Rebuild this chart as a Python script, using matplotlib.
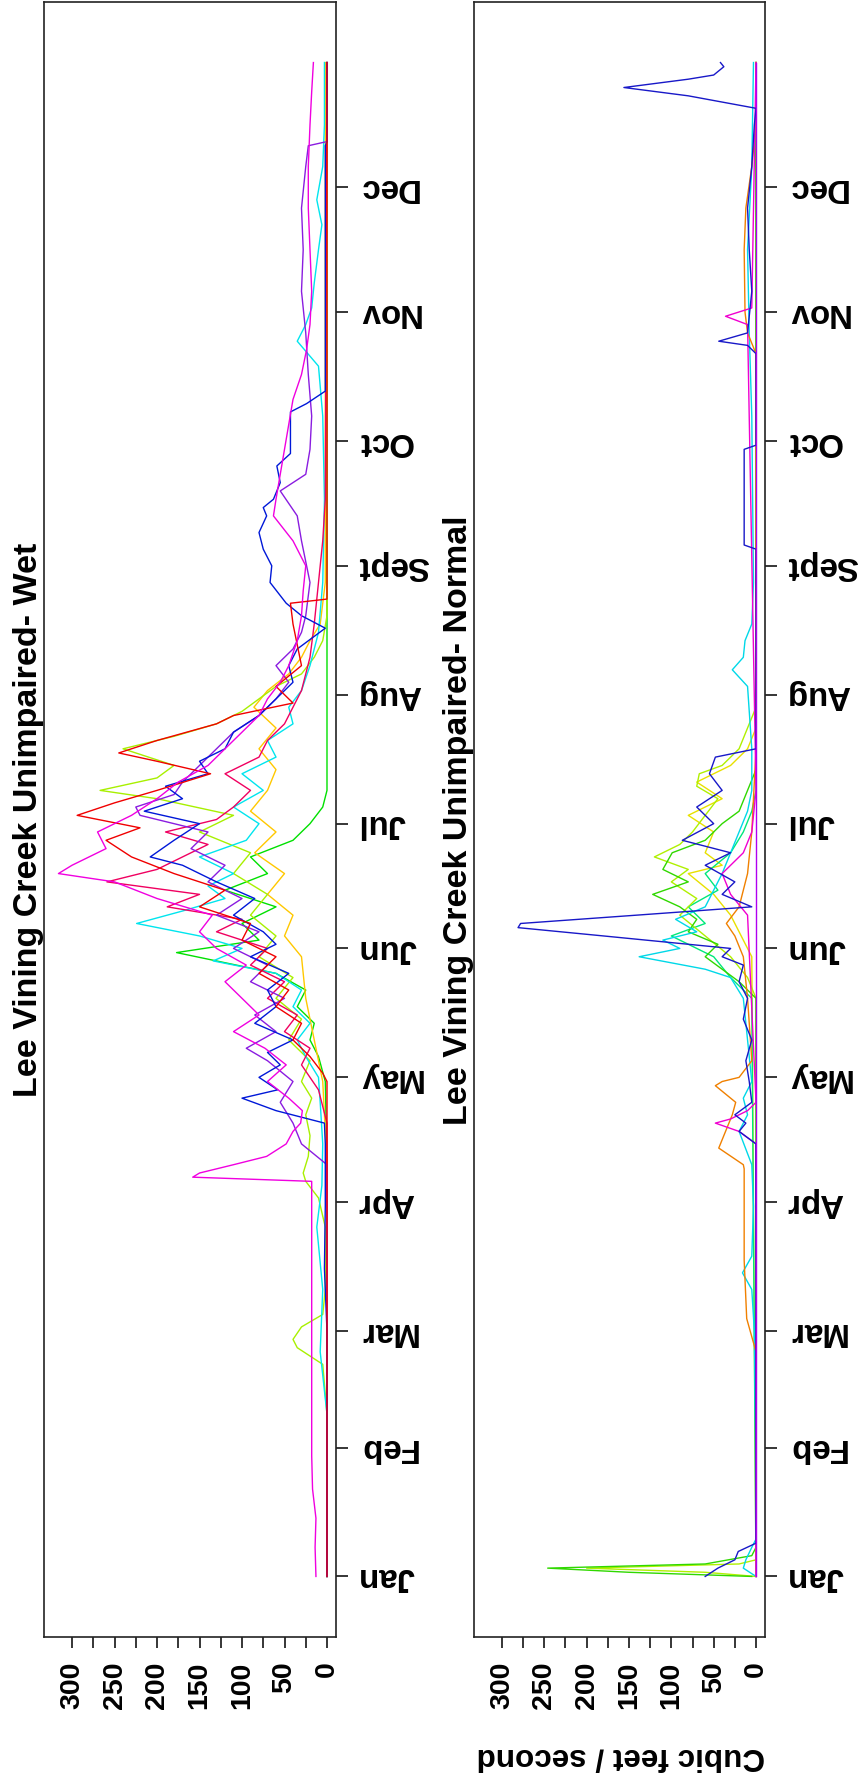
import matplotlib
matplotlib.use('Agg')
import matplotlib.pyplot as plt

plt.rcParams['font.family'] = ['Liberation Sans', 'DejaVu Sans']

# Eixo dos meses (dia do ano)
month_days = [1, 32, 60, 91, 121, 152, 182, 213, 244, 274, 305, 335]
month_names = ['Jan', 'Feb', 'Mar', 'Apr', 'May', 'Jun', 'Jul', 'Aug', 'Sept', 'Oct', 'Nov', 'Dec']
cfs_ticks = [0, 50, 100, 150, 200, 250, 300]
cfs_minor = [25, 75, 125, 175, 225, 275]

# ---- Wet years ----
wet_magenta_days = [1, 8, 15, 22, 30, 45, 60, 75, 90, 96, 97, 98, 100, 102, 105, 108, 110, 113, 116, 120,
                    124, 128, 132, 136, 140, 144, 148, 152, 156, 160, 164, 168, 170, 172, 176, 180, 184, 188, 192, 196,
                    200, 204, 208, 212, 216, 220, 226, 232, 238, 244, 250, 256, 260, 266, 272, 278, 284, 290, 296, 302,
                    310, 320, 330, 340, 350, 358, 365]
wet_magenta_cfs = [13, 14, 13, 17, 18, 18, 18, 18, 18, 18, 158, 150, 110, 71, 48, 40, 31, 29, 45, 70,
                   48, 73, 110, 80, 100, 120, 95, 130, 150, 135, 200, 250, 316, 300, 260, 270, 230, 200, 175, 140,
                   120, 100, 80, 70, 55, 45, 35, 30, 28, 25, 40, 63, 60, 55, 50, 45, 40, 30, 24, 20,
                   18, 20, 22, 22, 20, 18, 16]

wet_red_days = [1, 120, 122, 126, 130, 134, 138, 142, 146, 150, 154, 158, 162, 166, 170, 174, 178, 181, 184, 187,
                190, 194, 197, 199, 202, 204, 206, 208, 211, 215, 220, 225, 230, 235, 236, 240, 365]
wet_red_cfs = [0, 0, 5, 20, 40, 30, 60, 45, 80, 60, 100, 90, 150, 120, 180, 230, 260, 220, 294, 250,
               200, 137, 200, 245, 200, 165, 130, 110, 40, 60, 30, 35, 40, 43, 0, 0, 0]

wet_blue_days = [1, 60, 75, 90, 105, 110, 113, 116, 118, 121, 124, 127, 130, 134, 138, 142, 146, 150, 153, 156,
                 160, 164, 168, 172, 174, 178, 182, 185, 188, 191, 194, 197, 200, 204, 208, 212, 216, 220, 224, 229,
                 232, 235, 240, 244, 248, 252, 256, 258, 260, 264, 268, 271, 276, 281, 283, 286, 300, 320, 345, 346, 365]
wet_blue_cfs = [0, 0, 3, 2, 2, 3, 60, 100, 58, 80, 55, 70, 40, 85, 60, 70, 45, 90, 60, 75,
                110, 85, 130, 170, 208, 180, 150, 215, 170, 190, 140, 150, 120, 110, 80, 60, 40, 45, 35, 2,
                30, 48, 67, 65, 75, 80, 71, 75, 63, 55, 59, 43, 43, 43, 24, 2, 2, 2, 2, 0, 0]

wet_cyan_days = [1, 20, 40, 55, 70, 85, 95, 105, 115, 121, 126, 130, 134, 138, 142, 146, 149, 152, 155, 158,
                 161, 164, 167, 170, 174, 178, 182, 186, 190, 194, 198, 202, 206, 210, 214, 220, 228, 240, 260, 280,
                 292, 298, 302, 306, 312, 320, 326, 332, 340, 350, 365]
wet_cyan_cfs = [0, 0, 0, 8, 5, 12, 6, 5, 8, 10, 25, 35, 20, 40, 30, 60, 134, 100, 150, 224,
                170, 120, 140, 110, 150, 95, 80, 110, 75, 100, 60, 70, 40, 45, 30, 20, 10, 5, 3, 5,
                10, 35, 25, 18, 15, 10, 6, 12, 5, 3, 3]

wet_green_days = [1, 100, 120, 126, 130, 134, 138, 142, 146, 151, 154, 158, 162, 166, 170, 174, 178, 182, 186, 190, 365]
wet_green_cfs = [0, 0, 2, 10, 20, 15, 35, 25, 60, 177, 80, 100, 60, 120, 70, 90, 40, 20, 5, 0, 0]

wet_lime_days = [1, 40, 52, 56, 58, 61, 64, 70, 85, 92, 96, 98, 102, 107, 112, 116, 120, 125, 130, 135,
                 140, 145, 150, 155, 160, 165, 170, 175, 180, 184, 188, 190, 193, 196, 200, 203, 206, 209, 212, 215,
                 218, 222, 226, 232, 365]
wet_lime_cfs = [0, 0, 5, 35, 40, 30, 5, 2, 2, 10, 25, 28, 22, 20, 25, 18, 30, 20, 45, 30,
                60, 40, 80, 60, 90, 70, 110, 90, 150, 110, 200, 267, 200, 180, 240, 180, 130, 100, 80, 60,
                30, 15, 5, 0, 0]

wet_yellow_days = [1, 100, 120, 130, 140, 150, 155, 160, 165, 170, 175, 180, 185, 190, 195, 200, 205, 210, 214, 218,
                   222, 226, 230, 240, 365]
wet_yellow_cfs = [0, 0, 5, 15, 25, 30, 50, 40, 70, 50, 85, 60, 90, 70, 60, 80, 60, 86, 70, 45,
                  30, 20, 8, 2, 2]

wet_purple_days = [1, 60, 100, 105, 110, 115, 120, 125, 128, 132, 136, 140, 144, 148, 152, 156, 160, 164, 168, 172,
                   176, 180, 184, 186, 189, 192, 196, 200, 204, 208, 212, 216, 220, 224, 228, 232, 240, 250, 256, 262,
                   266, 272, 280, 290, 300, 310, 320, 330, 340, 345, 346, 365]
wet_purple_cfs = [0, 0, 0, 30, 40, 55, 40, 70, 95, 60, 85, 50, 90, 70, 110, 80, 130, 100, 140, 120,
                  160, 140, 220, 225, 180, 170, 150, 130, 110, 80, 60, 45, 60, 40, 30, 25, 20, 30, 35, 55,
                  25, 20, 18, 22, 25, 30, 28, 30, 25, 22, 0, 0]

wet_rose_days = [1, 110, 118, 124, 128, 132, 136, 140, 144, 148, 152, 156, 159, 162, 165, 168, 171, 174, 177, 180,
                 183, 186, 190, 194, 198, 202, 206, 210, 214, 218, 222, 230, 240, 250, 260, 365]
wet_rose_cfs = [0, 0, 10, 30, 20, 50, 35, 70, 50, 90, 70, 130, 100, 188, 150, 259, 200, 170, 140, 190,
                130, 110, 90, 120, 80, 70, 50, 40, 30, 25, 20, 15, 10, 5, 2, 0]

# ---- Normal years ----
nor_blue_days = [1, 3, 5, 7, 9, 105, 108, 110, 112, 115, 120, 125, 130, 135, 140, 144, 148, 150, 152, 155,
                 157, 158, 160, 162, 165, 168, 172, 175, 178, 182, 186, 190, 194, 198, 200, 248, 249, 272, 273, 295,
                 297, 298, 300, 310, 320, 330, 340, 350, 354, 357, 359, 361, 362, 364, 365]
nor_blue_cfs = [60, 45, 25, 21, 0, 0, 20, 12, 25, 5, 8, 12, 5, 15, 10, 20, 15, 40, 30, 180,
                281, 278, 141, 5, 40, 25, 60, 30, 87, 50, 70, 40, 55, 48, 0, 0, 14, 14, 0, 0,
                10, 44, 10, 5, 8, 10, 5, 2, 0, 80, 156, 80, 50, 38, 42]

nor_green_days = [1, 2, 3, 4, 6, 8, 140, 144, 147, 150, 153, 156, 159, 162, 165, 168, 171, 175, 178, 182,
                  185, 190, 195, 365]
nor_green_cfs = [5, 150, 246, 60, 5, 0, 0, 20, 40, 60, 45, 80, 70, 90, 122, 80, 110, 99, 60, 40,
                 20, 10, 0, 0]

nor_lime_days = [1, 2, 3, 4, 5, 140, 145, 150, 155, 160, 164, 168, 171, 174, 177, 180, 184, 188, 191, 194,
                 196, 200, 205, 210, 365]
nor_lime_cfs = [0, 60, 200, 20, 0, 0, 10, 30, 60, 90, 70, 100, 80, 120, 90, 75, 60, 45, 70, 67,
                40, 20, 10, 0, 0]

nor_cyan_days = [1, 3, 5, 8, 10, 30, 60, 70, 74, 78, 90, 100, 108, 112, 116, 120, 130, 140, 145, 147,
                 150, 152, 154, 156, 159, 162, 166, 170, 175, 180, 185, 190, 200, 215, 219, 222, 226, 230, 240, 280,
                 300, 320, 340, 365]
nor_cyan_cfs = [0, 15, 12, 5, 0, 0, 2, 5, 16, 5, 3, 5, 20, 10, 15, 5, 10, 15, 30, 60,
                138, 90, 110, 70, 95, 60, 50, 40, 30, 20, 10, 5, 5, 10, 28, 15, 13, 5, 3, 5,
                8, 10, 5, 3]

nor_orange_days = [1, 55, 63, 77, 99, 100, 104, 108, 112, 115, 117, 119, 120, 121, 125, 140, 150, 155, 158, 162,
                   170, 180, 200, 295, 300, 305, 320, 330, 340, 350, 365]
nor_orange_cfs = [0, 0, 11, 14, 14, 15, 44, 36, 28, 24, 36, 48, 40, 20, 5, 10, 15, 25, 35, 20,
                  10, 5, 0, 0, 10, 13, 14, 12, 5, 0, 0]

nor_spring_days = [1, 140, 145, 150, 155, 158, 162, 166, 170, 175, 180, 185, 190, 365]
nor_spring_cfs = [0, 5, 30, 50, 100, 60, 80, 45, 60, 30, 15, 5, 0, 0]

nor_yellow_days = [1, 150, 160, 165, 170, 172, 175, 180, 184, 188, 190, 192, 196, 200, 205, 365]
nor_yellow_cfs = [0, 5, 30, 50, 80, 40, 60, 50, 80, 40, 55, 70, 30, 10, 0, 0]

nor_magenta_days = [1, 105, 108, 110, 111, 113, 115, 160, 165, 170, 175, 180, 190, 302, 304, 306, 365]
nor_magenta_cfs = [0, 0, 20, 48, 30, 10, 0, 10, 30, 40, 15, 5, 0, 10, 36, 5, 0]

nor_violet_days = [1, 365]
nor_violet_cfs = [0, 0]

wet_series = [
    (wet_green_days, wet_green_cfs, '#00E000'),
    (wet_yellow_days, wet_yellow_cfs, '#FFC800'),
    (wet_lime_days, wet_lime_cfs, '#A8F000'),
    (wet_cyan_days, wet_cyan_cfs, '#00E5EE'),
    (wet_rose_days, wet_rose_cfs, '#F00060'),
    (wet_purple_days, wet_purple_cfs, '#8A1CE0'),
    (wet_blue_days, wet_blue_cfs, '#0018D8'),
    (wet_red_days, wet_red_cfs, '#F00000'),
    (wet_magenta_days, wet_magenta_cfs, '#F000E0'),
]

normal_series = [
    (nor_yellow_days, nor_yellow_cfs, '#E8E000'),
    (nor_spring_days, nor_spring_cfs, '#00E87A'),
    (nor_lime_days, nor_lime_cfs, '#B0F000'),
    (nor_green_days, nor_green_cfs, '#30D800'),
    (nor_cyan_days, nor_cyan_cfs, '#00D8E8'),
    (nor_orange_days, nor_orange_cfs, '#F08000'),
    (nor_magenta_days, nor_magenta_cfs, '#F000D0'),
    (nor_blue_days, nor_blue_cfs, '#1818C8'),
    (nor_violet_days, nor_violet_cfs, '#B000F0'),
]

W, H = 864, 1777
fig = plt.figure(figsize=(W / 100, H / 100), dpi=100)

# posicao dos paineis em pixels (esquerda, direita), topo 2 e base 1637
panels = [(44, 336, wet_series, 'Lee Vining Creek Unimpaired- Wet'),
          (474, 765, normal_series, 'Lee Vining Creek Unimpaired- Normal')]

for left, right, series, title in panels:
    ax = fig.add_axes([left / W, (H - 1637) / H, (right - left) / W, 1635 / H])
    for d, v, c in series:
        ax.plot(v, d, color=c, lw=1.0)

    ax.set_xlim(333, -10.6)
    ax.set_ylim(-13.56, 379.56)

    ax.set_xticks(cfs_ticks)
    ax.set_xticklabels([str(t) for t in cfs_ticks], rotation=90, fontsize=20.5, fontweight='bold')
    ax.set_xticks(cfs_minor, minor=True)
    ax.tick_params(axis='x', which='both', direction='out', length=8, width=1.1, pad=9.5)

    ax.yaxis.tick_right()
    ax.set_yticks(month_days)
    ax.set_yticklabels(month_names, rotation=180, va='center', ha='left', fontsize=23.8, fontweight='bold')
    ax.tick_params(axis='y', direction='out', length=8.6, width=1.1, pad=7)

    for s in ax.spines.values():
        s.set_linewidth(1.2)
        s.set_color('#222222')

    fig.text((left - 7) / W, 1 - 820 / H, title, rotation=90, rotation_mode='anchor',
             ha='center', va='baseline', fontsize=24.5, fontweight='bold')

fig.text(621 / W, 1 - 1757 / H, 'Cubic feet / second', rotation=180, ha='center', va='center',
         fontsize=22.6, fontweight='bold')

fig.savefig('out.png', dpi=100)
